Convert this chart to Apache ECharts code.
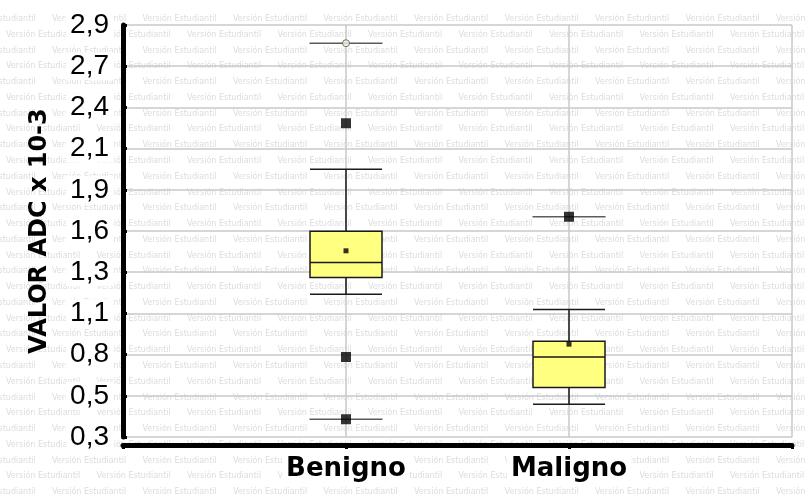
<!DOCTYPE html>
<html>
<head>
<meta charset="utf-8">
<script src="https://cdn.jsdelivr.net/npm/echarts@6/dist/echarts.min.js"></script>
<style>html,body{margin:0;padding:0;background:#fff}#c{width:806px;height:500px}</style>
</head>
<body>
<div id="c"></div>
<script>
// ---- data ----
const categories = ['', 'Benigno', 'Maligno', ''];
const boxCategories = ['Benigno', 'Maligno'];
// [min whisker, Q1, median, Q3, max whisker]
const benignoBox = [1.201, 1.307, 1.402, 1.599, 1.989];
const malignoBox = [0.507, 0.612, 0.805, 0.905, 1.105];
const meanValues = [1.475, 0.886];
const outlierCats = ['Benigno', 'Benigno', 'Benigno', 'Maligno'];
const outlierValues = [2.28, 0.805, 0.412, 1.69];
const extremeCats = ['Benigno'];
const extremeValues = [2.785];
const capCats = ['Benigno', 'Benigno', 'Maligno'];
const capValues = [2.785, 0.412, 1.69];
const yMin = 0.3, yMax = 2.9, yStep = 0.26;
const yTickLabels = ['0,3', '0,5', '0,8', '1,1', '1,3', '1,6', '1,9', '2,1', '2,4', '2,7', '2,9'];
const yTitle = 'VALOR ADC x 10-3';
const watermarkText = 'Versión Estudiantil';

// ---- watermark ----
const wm = [];
for (let k = 0; k <= 30; k++) {
  const y = 19 + 15.77 * k;
  const start = (k % 2 === 0 ? 52 : 6) - 90.5;
  for (let x = start; x < 806; x += 90.5) {
    wm.push({
      type: 'text', x: x, y: y, z: -10, silent: true,
      style: { text: watermarkText, fill: '#dcdcdc', font: '8px "DejaVu Sans"', verticalAlign: 'middle' }
    });
  }
}

const boxData = [benignoBox, malignoBox].map((b, i) => [boxCategories[i]].concat(b));

const chart = echarts.init(document.getElementById('c'), null, { renderer: 'canvas' });
chart.setOption({
  animation: false,
  backgroundColor: '#fff',
  graphic: { elements: wm },
  grid: { left: 123, right: 14, top: 25, bottom: 63, containLabel: false },
  xAxis: {
    type: 'category',
    data: categories.map(c => c ? { value: c } : { value: c, textStyle: { backgroundColor: 'transparent', padding: 0 } }),
    boundaryGap: false,
    offset: 8,
    axisLine: { lineStyle: { color: '#000', width: 5, cap: 'round' } },
    axisTick: { show: true, length: 4, lineStyle: { color: '#000', width: 3 } },
    axisLabel: {
      interval: 0, margin: 9, fontFamily: 'DejaVu Sans', fontWeight: 'bold', fontSize: 26,
      color: '#000', backgroundColor: '#fff', padding: [2, 4]
    },
    splitLine: { show: true, lineStyle: { color: '#c8c8c8', width: 1.5 } }
  },
  yAxis: {
    type: 'value', min: yMin, max: yMax, interval: yStep,
    name: yTitle, nameLocation: 'middle', nameGap: 71,
    nameTextStyle: { fontFamily: 'DejaVu Sans', fontWeight: 'bold', fontSize: 24, color: '#000' },
    axisLine: { show: true, lineStyle: { color: '#000', width: 5, cap: 'round' } },
    axisTick: { show: true, inside: true, length: 4, lineStyle: { color: '#000', width: 3 } },
    axisLabel: {
      formatter: v => yTickLabels[Math.round((v - yMin) / yStep)],
      fontFamily: 'Liberation Sans', fontSize: 28, color: '#000', margin: 10,
      backgroundColor: '#fff', padding: [0, 4]
    },
    splitLine: { show: true, lineStyle: { color: '#c8c8c8', width: 1.5 } }
  },
  series: [
    {
      type: 'boxplot', silent: true, z: 2,
      data: boxData,
      encode: { x: 0, y: [1, 2, 3, 4, 5] },
      boxWidth: [72, 72],
      itemStyle: { color: '#ffff80', borderColor: '#1a1a1a', borderWidth: 1.5 }
    },
    {
      type: 'scatter', silent: true, z: 3,
      symbol: 'rect', symbolSize: [73, 1.5],
      itemStyle: { color: '#333' },
      data: capCats.map((c, i) => [c, capValues[i]])
    },
    {
      type: 'scatter', silent: true, z: 4,
      symbol: 'rect', symbolSize: 10,
      itemStyle: { color: '#000' },
      data: outlierCats.map((c, i) => [c, outlierValues[i]])
    },
    {
      type: 'scatter', silent: true, z: 4,
      symbol: 'circle', symbolSize: 7,
      itemStyle: { color: '#f2f2e0', borderColor: '#555', borderWidth: 1 },
      data: extremeCats.map((c, i) => [c, extremeValues[i]])
    },
    {
      type: 'scatter', silent: true, z: 5,
      symbol: 'rect', symbolSize: 5,
      itemStyle: { color: '#000' },
      data: boxCategories.map((c, i) => [c, meanValues[i]])
    }
  ]
});
</script>
</body>
</html>
